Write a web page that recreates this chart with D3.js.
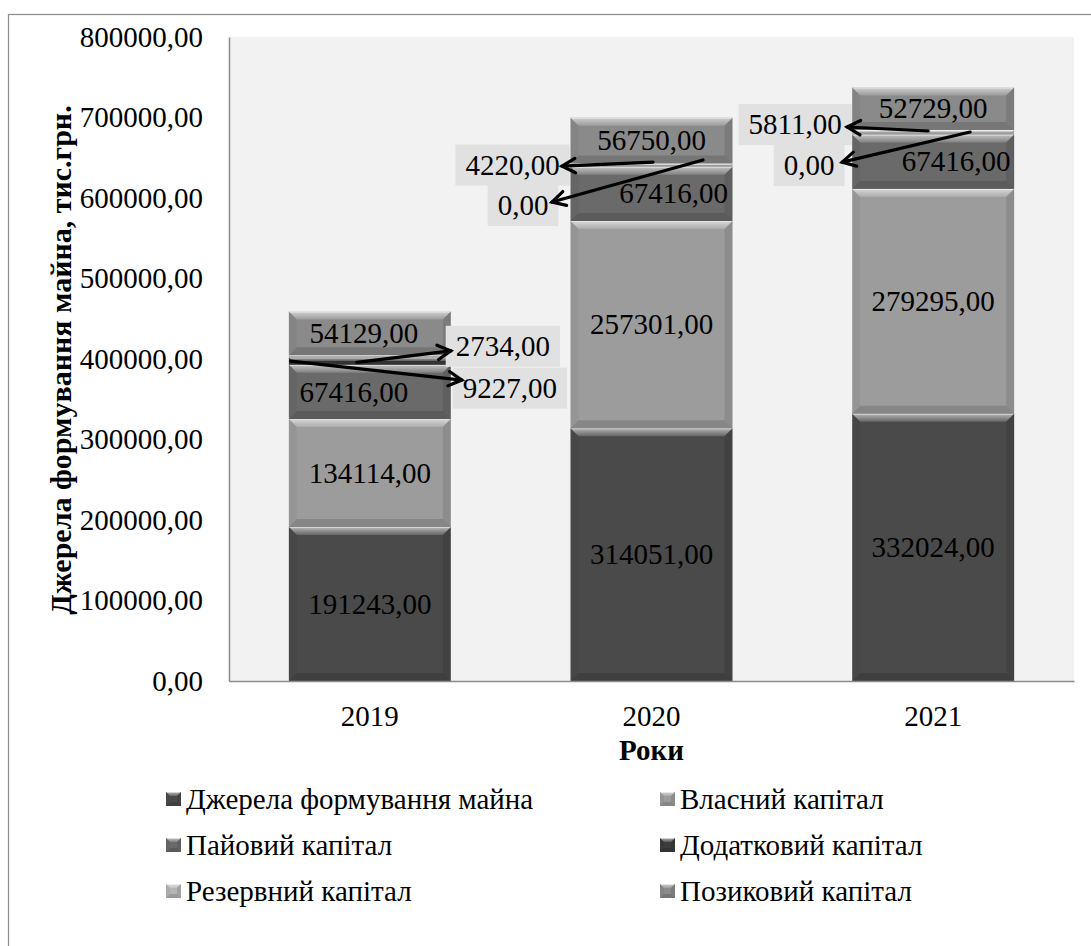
<!DOCTYPE html>
<html>
<head>
<meta charset="utf-8">
<script src="https://cdn.jsdelivr.net/npm/d3@7"></script>
<style>
  body { margin: 0; background: #ffffff; }
  text { font-family: "Liberation Serif", "Times New Roman", serif; fill: #000; }
</style>
</head>
<body>
<svg id="chart" width="1091" height="946"></svg>
<script>
// ---- data ----
const years = ["2019", "2020", "2021"];
const seriesNames = [
  "Джерела формування майна",
  "Власний капітал",
  "Пайовий капітал",
  "Додатковий капітал",
  "Резервний капітал",
  "Позиковий капітал"
];
const dzherela   = [191243, 314051, 332024];
const vlasnyi    = [134114, 257301, 279295];
const paiovyi    = [67416, 67416, 67416];
const dodatkovyi = [9227, 0, 0];
const rezervnyi  = [2734, 4220, 5811];
const pozykovyi  = [54129, 56750, 52729];
const yTicks = [0, 100000, 200000, 300000, 400000, 500000, 600000, 700000, 800000];
const yTitle = "Джерела формування майна, тис.грн.";
const xTitle = "Роки";

// ---- styling / layout ----
const seriesColors = ["#4a4a4a", "#9c9c9c", "#6a6a6a", "#3c3c3c", "#b4b4b4", "#8a8a8a"];
const FONT = 29;
const plot = { left: 229, right: 1074, top: 37, bottom: 681 };

// in-segment label nudges (px), keyed "year|series"
const labelNudge = { "2019|2": -16, "2019|5": -6, "2020|2": 22, "2021|2": 23 };
// callout labels for the thin segments: label centre relative to bar centre / segment middle,
// arrow start relative to the same point, arrow tip relative to the label centre
const calloutLayout = {
  "2019|4": { lx: 133,    ly: -10,  sx: -13, sy: 6,    tx: -52,  ty: 4.5 },
  "2019|3": { lx: 140,    ly: 27,   sx: -79, sy: 0,    tx: -48,  ty: -8 },
  "2020|4": { lx: -139,   ly: 0,    sx: 1.5, sy: -3,   tx: 49.5, ty: 1 },
  "2020|3": { lx: -128.5, ly: 38.7, sx: 51.5, sy: -6.8, tx: 29,  ty: -3.5 },
  "2021|4": { lx: -138,   ly: -7.8, sx: -5,  sy: -1.3, tx: 52,   ty: 2.5 },
  "2021|3": { lx: -124,   ly: 31,   sx: 37,  sy: -2.6, tx: 33,   ty: -3.5 }
};

const seriesValues = [dzherela, vlasnyi, paiovyi, dodatkovyi, rezervnyi, pozykovyi];
const rows = years.map((yr, i) => {
  const r = { year: yr };
  seriesNames.forEach((s, k) => { r[s] = seriesValues[k][i]; });
  return r;
});
const stacked = d3.stack().keys(seriesNames)(rows);

const fmt = v => d3.format(".2f")(v).replace(".", ",");

const svg = d3.select("#chart");

// gradients for the bevelled bar look
const defs = svg.append("defs");
const gTop = defs.append("linearGradient").attr("id", "topGlow").attr("x1", 0).attr("y1", 0).attr("x2", 0).attr("y2", 1);
gTop.append("stop").attr("offset", "0%").attr("stop-color", "#fff").attr("stop-opacity", 0.6);
gTop.append("stop").attr("offset", "100%").attr("stop-color", "#fff").attr("stop-opacity", 0.15);

// outer frame
svg.append("rect").attr("x", 8.5).attr("y", 14.5).attr("width", 1100).attr("height", 960)
  .attr("fill", "#fff").attr("stroke", "#8c8c8c").attr("stroke-width", 1.2);

// plot area
svg.append("rect").attr("x", plot.left).attr("y", plot.top)
  .attr("width", plot.right - plot.left).attr("height", plot.bottom - plot.top)
  .attr("fill", "#f2f2f2");

const x = d3.scaleBand().domain(years).range([plot.left, plot.right]).paddingInner(0.425).paddingOuter(0.2125);
const y = d3.scaleLinear().domain([0, 800000]).range([plot.bottom, plot.top]);

function bevelRect(g, x0, y0, x1, y1, fill, b) {
  const w = x1 - x0, h = y1 - y0;
  if (h <= 0.01) return;
  const e = Math.min(b, h / 2, w / 2);
  g.append("rect").attr("x", x0).attr("y", y0).attr("width", w).attr("height", h).attr("fill", fill);
  g.append("path").attr("d", `M${x0},${y0}L${x1},${y0}L${x1 - e},${y0 + e}L${x0 + e},${y0 + e}Z`).attr("fill", "url(#topGlow)");
  g.append("path").attr("d", `M${x0},${y0}L${x0 + e},${y0 + e}L${x0 + e},${y1 - e}L${x0},${y1}Z`).attr("fill", "#000").attr("fill-opacity", 0.04);
  g.append("path").attr("d", `M${x1},${y0}L${x1},${y1}L${x1 - e},${y1 - e}L${x1 - e},${y0 + e}Z`).attr("fill", "#000").attr("fill-opacity", 0.1);
  g.append("path").attr("d", `M${x0},${y1}L${x0 + e},${y1 - e}L${x1 - e},${y1 - e}L${x1},${y1}Z`).attr("fill", "#000").attr("fill-opacity", 0.14);
  g.append("line").attr("x1", x0 + 1).attr("x2", x1 - 1).attr("y1", y0 + 0.5).attr("y2", y0 + 0.5)
    .attr("stroke", "#fff").attr("stroke-opacity", 0.5).attr("stroke-width", 1);
}

// bars
const barsG = svg.append("g");
stacked.forEach((layer, k) => {
  layer.forEach((d, i) => {
    const x0 = x(years[i]), x1 = x0 + x.bandwidth();
    bevelRect(barsG, x0, y(d[1]), x1, y(d[0]), seriesColors[k], 8);
  });
});

// axes
const yAxis = svg.append("g").attr("transform", `translate(${plot.left},0)`)
  .call(d3.axisLeft(y).tickValues(yTicks).tickFormat(fmt).tickSize(0).tickSizeOuter(0).tickPadding(26));
yAxis.select(".domain").attr("stroke", "#8a8a8a").attr("stroke-width", 1.5);
yAxis.selectAll("text").attr("font-size", FONT).attr("font-family", "Liberation Serif");

const xAxis = svg.append("g").attr("transform", `translate(0,${plot.bottom})`)
  .call(d3.axisBottom(x).tickSize(0).tickSizeOuter(0).tickPadding(24));
xAxis.select(".domain").attr("stroke", "#8a8a8a").attr("stroke-width", 1.5);
xAxis.selectAll("text").attr("font-size", FONT).attr("font-family", "Liberation Serif");

// axis titles
svg.append("text").attr("x", (plot.left + plot.right) / 2).attr("y", 760)
  .attr("text-anchor", "middle").attr("font-size", FONT).attr("font-weight", "bold").text(xTitle);
svg.append("text").attr("transform", "translate(71,360) rotate(-90)")
  .attr("text-anchor", "middle").attr("font-size", 30).attr("font-weight", "bold").text(yTitle);

// value labels
const labelsG = svg.append("g");
const calloutG = svg.append("g");
function arrow(g, sx, sy, tx, ty) {
  g.append("line").attr("x1", sx).attr("y1", sy).attr("x2", tx).attr("y2", ty)
    .attr("stroke", "#000").attr("stroke-width", 3.2).attr("stroke-linecap", "round");
  const ang = Math.atan2(ty - sy, tx - sx), L = 15, a = 0.5;
  const p1 = [tx - L * Math.cos(ang - a), ty - L * Math.sin(ang - a)];
  const p2 = [tx - L * Math.cos(ang + a), ty - L * Math.sin(ang + a)];
  g.append("path").attr("d", `M${p1[0]},${p1[1]}L${tx},${ty}L${p2[0]},${p2[1]}`)
    .attr("fill", "none").attr("stroke", "#000").attr("stroke-width", 3.2)
    .attr("stroke-linecap", "round").attr("stroke-linejoin", "miter");
}

stacked.forEach((layer, k) => {
  layer.forEach((d, i) => {
    const yr = years[i];
    const cx = x(yr) + x.bandwidth() / 2;
    const mid = (y(d[0]) + y(d[1])) / 2;
    const key = yr + "|" + k;
    const value = d.data[seriesNames[k]];
    if (calloutLayout[key]) {
      const c = calloutLayout[key];
      const lx = cx + c.lx, ly = mid + c.ly;
      const t = calloutG.append("text").attr("x", lx).attr("y", ly + FONT * 0.33)
        .attr("text-anchor", "middle").attr("font-size", FONT).text(fmt(value));
      const bb = t.node().getBBox();
      calloutG.insert("rect", "text").attr("x", bb.x - 10).attr("y", ly - 20.5)
        .attr("width", bb.width + 20).attr("height", 41).attr("fill", "#e1e1e1");
    } else {
      labelsG.append("text").attr("x", cx + (labelNudge[key] || 0)).attr("y", mid + FONT * 0.33)
        .attr("text-anchor", "middle").attr("font-size", FONT).text(fmt(value));
    }
  });
});
// arrows on top of the callout boxes
const arrowsG = svg.append("g");
stacked.forEach((layer, k) => {
  layer.forEach((d, i) => {
    const yr = years[i];
    const key = yr + "|" + k;
    if (!calloutLayout[key]) return;
    const c = calloutLayout[key];
    const cx = x(yr) + x.bandwidth() / 2;
    const mid = (y(d[0]) + y(d[1])) / 2;
    arrow(arrowsG, cx + c.sx, mid + c.sy, cx + c.lx + c.tx, mid + c.ly + c.ty);
  });
});

// legend (two columns, row-major)
const legendG = svg.append("g");
const legCols = [166, 660], legRows = [799, 845, 891];
seriesNames.forEach((name, k) => {
  const lx = legCols[k % 2], ly = legRows[Math.floor(k / 2)];
  bevelRect(legendG, lx, ly - 7, lx + 15, ly + 7, seriesColors[k], 4);
  legendG.append("text").attr("x", lx + 20).attr("y", ly + FONT * 0.33)
    .attr("font-size", FONT).text(name);
});
</script>
</body>
</html>
